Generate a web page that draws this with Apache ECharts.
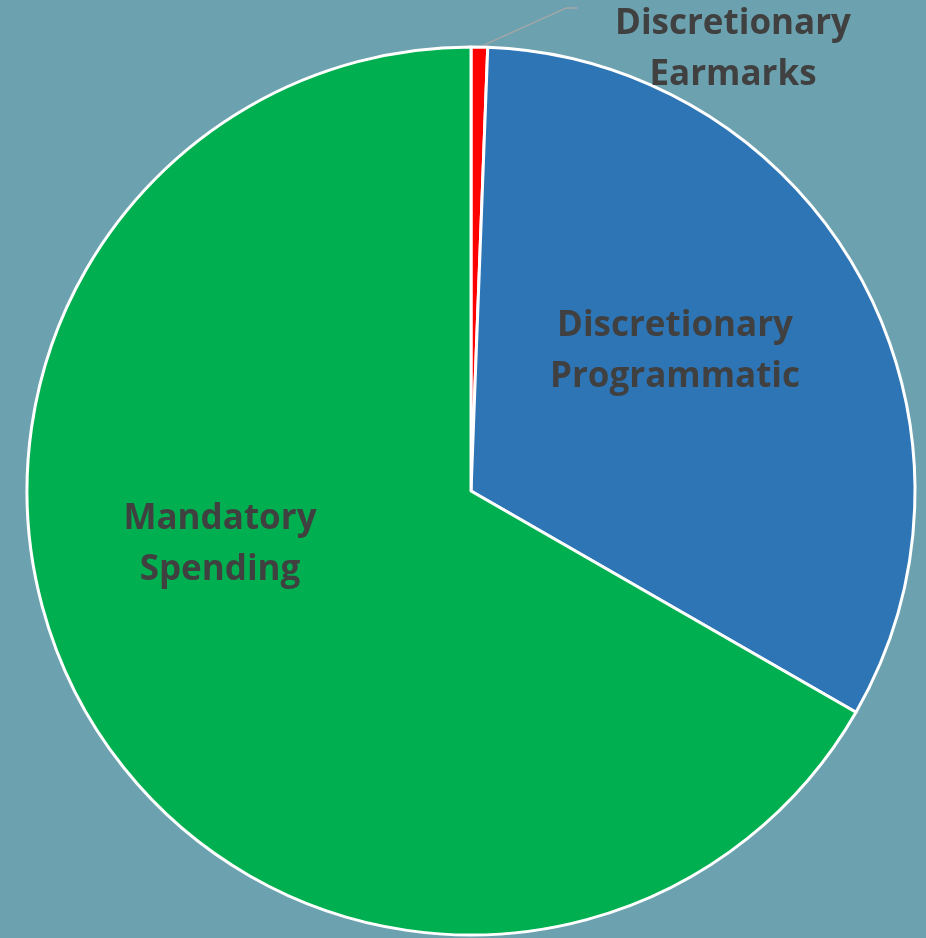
<!DOCTYPE html>
<html>
<head>
<meta charset="utf-8">
<script src="https://cdn.jsdelivr.net/npm/echarts@6/dist/echarts.min.js"></script>
<style>
html,body{margin:0;padding:0;background:#6CA2AF;}
#chart{width:926px;height:938px;}
</style>
</head>
<body>
<div id="chart"></div>
<script>
// Data
var categories = ['Discretionary\nEarmarks', 'Discretionary\nProgrammatic', 'Mandatory\nSpending'];
var values = [0.6, 32.7, 66.7];
var colors = ['#FF0000', '#2E75B6', '#00B050'];
var labelPlacement = ['outside', 'inside', 'inside'];

// label anchor positions (label layout only)
var labelPos = [[733, 50], [675, 352], [220, 545]];

var chart = echarts.init(document.getElementById('chart'));
var data = categories.map(function (c, i) {
  return {
    name: c,
    value: values[i],
    itemStyle: { color: colors[i] },
    label: { position: labelPlacement[i] },
    labelLine: { show: labelPlacement[i] === 'outside' }
  };
});

chart.setOption({
  backgroundColor: '#6CA2AF',
  animation: false,
  series: [{
    type: 'pie',
    center: [471, 491],
    radius: [0, 444],
    startAngle: 90,
    clockwise: true,
    avoidLabelOverlap: false,
    data: data,
    itemStyle: { borderColor: '#FFFFFF', borderWidth: 3 },
    label: {
      show: true,
      formatter: '{b}',
      color: '#404040',
      fontFamily: 'Open Sans',
      fontWeight: 'bold',
      fontSize: 35,
      lineHeight: 51,
      align: 'center',
      overflow: 'none',
      width: 400
    },
    labelLine: {
      lineStyle: { color: '#A6A6A6', width: 1.3 }
    },
    labelLayout: function (params) {
      var p = labelPos[params.dataIndex];
      var res = { x: p[0], y: p[1], align: 'center', verticalAlign: 'middle', hideOverlap: false };
      if (params.dataIndex === 0 && params.labelLinePoints) {
        var a = params.labelLinePoints[0];
        res.labelLinePoints = [[a[0], a[1]], [a[0] + 87, 8], [a[0] + 98, 8]];
      }
      return res;
    }
  }]
});
</script>
</body>
</html>
